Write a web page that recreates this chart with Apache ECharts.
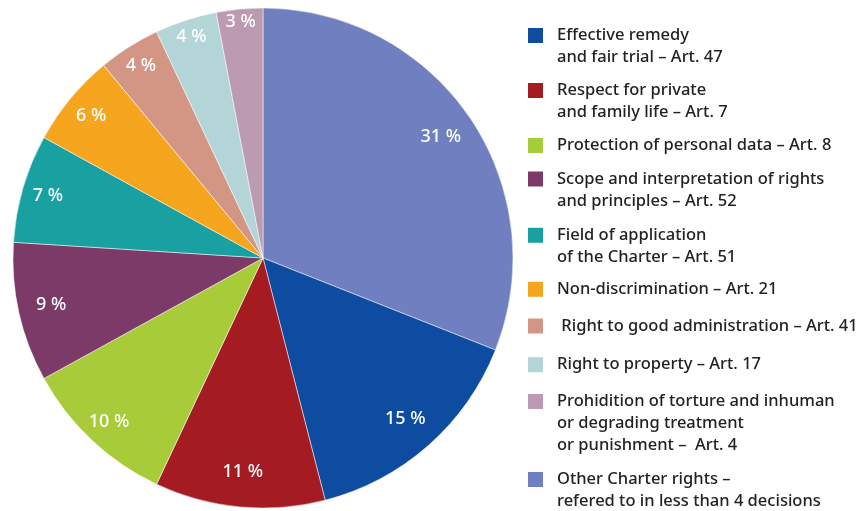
<!DOCTYPE html>
<html>
<head>
<meta charset="utf-8">
<script src="https://cdn.jsdelivr.net/npm/echarts@6/dist/echarts.min.js"></script>
<style>
html, body { margin: 0; padding: 0; background: #fff; }
#chart { width: 861px; height: 511px; }
</style>
</head>
<body>
<div id="chart"></div>
<script>
// slices, clockwise from 12 o'clock
const categories = [
    'Other Charter rights –\nrefered to in less than 4 decisions',
    'Effective remedy\nand fair trial – Art. 47',
    'Respect for private\nand family life – Art. 7',
    'Protection of personal data – Art. 8',
    'Scope and interpretation of rights\nand principles – Art. 52',
    'Field of application\nof the Charter – Art. 51',
    'Non-discrimination – Art. 21',
    ' Right to good administration – Art. 41',
    'Right to property – Art. 17',
    'Prohidition of torture and inhuman\nor degrading treatment\nor punishment –  Art. 4'
]
const shares = [31, 15, 11, 10, 9, 7, 6, 4, 4, 3]
const colors = ['#6f7fbf', '#0d4ca1', '#a41c22', '#a8cb3a', '#7b3a67', '#19a0a0', '#f6a51f', '#d39685', '#b3d5d8', '#bc9ab1']
// legend lists the slices in this order
const legendOrder = [1, 2, 3, 4, 5, 6, 7, 8, 9, 0]

// layout
const cx = 263
const cy = 258
const radius = 250
const labelRadius = [215, 215, 215, 225, 217, 224, 223, 228, 232, 237]
const legendCenters = [35.5, 90.5, 145.5, 179, 235.3, 289.3, 326, 364.7, 401.5, 479.5]
const lineH = 22

const myChart = echarts.init(document.getElementById('chart'))

const legends = legendOrder.map((idx, i) => {
    const lines = categories[idx].split('\n').length
    return {
        orient: 'vertical',
        left: 528,
        top: legendCenters[i] - (2 * lines - 1) * lineH / 2,
        padding: 0,
        itemWidth: 15,
        itemHeight: 15,
        icon: 'rect',
        selectedMode: false,
        data: [categories[idx]],
        // empty lines on top keep the square beside the first line
        formatter: function (name) {
            return '\n'.repeat(lines - 1) + name
        },
        itemStyle: { borderWidth: 0 },
        textStyle: {
            fontFamily: 'Noto Sans',
            fontSize: 16.5,
            fontWeight: 500,
            lineHeight: lineH,
            color: '#222',
            padding: [0, 0, 0, 9]
        }
    }
})

myChart.setOption({
    animation: false,
    color: colors,
    legend: legends,
    series: [{
        type: 'pie',
        center: [cx, cy],
        radius: radius,
        startAngle: 90,
        clockwise: true,
        avoidLabelOverlap: false,
        itemStyle: {
            borderColor: '#fff',
            borderWidth: 0.5
        },
        label: {
            show: true,
            position: 'inside',
            color: '#fff',
            fontFamily: 'Noto Sans',
            fontSize: 18,
            fontWeight: 500,
            formatter: function (p) {
                return p.value + ' %'
            }
        },
        labelLine: { show: false },
        labelLayout: function (p) {
            const r = p.labelRect
            const lx = r.x + r.width / 2
            const ly = r.y + r.height / 2
            const a = Math.atan2(ly - cy, lx - cx)
            const d = labelRadius[p.dataIndex]
            return {
                dx: cx + d * Math.cos(a) - lx,
                dy: cy + d * Math.sin(a) - ly
            }
        },
        emphasis: { disabled: true },
        data: categories.map((name, i) => ({ name: name, value: shares[i] }))
    }]
})
</script>
</body>
</html>
